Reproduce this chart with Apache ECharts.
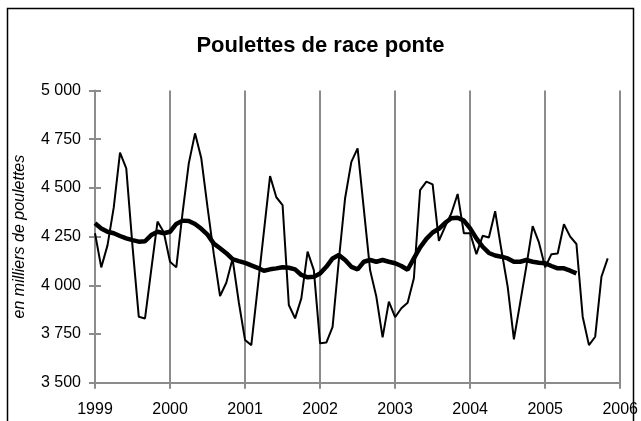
<!DOCTYPE html>
<html>
<head>
<meta charset="utf-8">
<script src="https://cdn.jsdelivr.net/npm/echarts@6/dist/echarts.min.js"></script>
<style>
  html, body { margin: 0; padding: 0; background: #fff; }
  #main { width: 641px; height: 421px; }
</style>
</head>
<body>
<div id="main"></div>
<script>
  // série mensuelle, janvier 1999 -> novembre 2005 (milliers de poulettes)
  const startYear = 1999;
  const monthly = [
    4267, 4092, 4205, 4400, 4681, 4600, 4200, 3839, 3830, 4080, 4327, 4272,
    4121, 4092, 4370, 4626, 4780, 4652, 4400, 4160, 3945, 4013, 4136, 3913,
    3719, 3693, 3982, 4272, 4561, 4452, 4412, 3899, 3830, 3933, 4173, 4078,
    3702, 3706, 3787, 4130, 4447, 4634, 4703, 4390, 4078, 3941, 3733, 3916,
    3836, 3882, 3910, 4036, 4489, 4532, 4518, 4228, 4301, 4370, 4469, 4267,
    4267, 4160, 4254, 4245, 4380, 4181, 3993, 3723, 3910, 4100, 4304, 4220,
    4092, 4160, 4163, 4313, 4250, 4212, 3839, 3693, 3736, 4044, 4138
  ];
  // moyenne mobile (trait épais), janvier 1999 -> juin 2005
  const trend = [
    4318, 4292, 4275, 4267, 4253, 4241, 4232, 4224, 4226, 4258, 4275, 4267,
    4275, 4315, 4332, 4330, 4315, 4290, 4260, 4214, 4190, 4165, 4134, 4124,
    4115, 4102, 4090, 4075, 4082, 4087, 4093, 4090, 4082, 4053, 4041, 4044,
    4061, 4095, 4138, 4155, 4130, 4095, 4082, 4121, 4130, 4121, 4130, 4121,
    4113, 4099, 4080, 4138, 4195, 4238, 4271, 4290, 4321, 4344, 4347, 4332,
    4292, 4241, 4198, 4166, 4153, 4147, 4138, 4121, 4121, 4130, 4121, 4116,
    4113, 4099, 4087, 4087, 4075, 4061
  ];
  const yearMin = 1999, yearMax = 2006;
  const yMin = 3500, yMax = 5000, yStep = 250;

  const toPoints = arr => arr.map((v, i) => [startYear + i / 12, v]);
  const fmtThousands = v => String(v).replace(/\B(?=(\d{3})+(?!\d))/g, ' ');

  const grey = '#8c8c8c';
  const font = 'Liberation Sans, Arial, sans-serif';

  const chart = echarts.init(document.getElementById('main'));
  chart.setOption({
    animation: false,
    backgroundColor: '#fff',
    title: {
      text: 'Poulettes de race ponte',
      left: 'center',
      top: 30,
      textStyle: { fontFamily: font, fontSize: 22, fontWeight: 'bold', color: '#000' }
    },
    graphic: [{
      type: 'rect',
      shape: { x: 7.5, y: 8.5, width: 626, height: 440 },
      style: { fill: 'none', stroke: '#000', lineWidth: 1.5 },
      silent: true
    }],
    grid: { left: 95, right: 20, top: 90.5, bottom: 38.3 },
    xAxis: {
      type: 'value',
      min: yearMin,
      max: yearMax,
      interval: 1,
      axisLine: { lineStyle: { color: grey, width: 2 } },
      axisTick: { show: true, length: 6, lineStyle: { color: grey, width: 2 } },
      splitLine: { show: true, lineStyle: { color: grey, width: 2 } },
      axisLabel: { color: '#000', fontFamily: font, fontSize: 16, margin: 19, formatter: v => String(v) }
    },
    yAxis: [{
      type: 'value',
      min: yMin,
      max: yMax,
      interval: yStep,
      name: 'en milliers de poulettes',
      nameLocation: 'middle',
      nameGap: 67,
      nameTextStyle: { fontFamily: font, fontSize: 16, fontStyle: 'italic', color: '#000' },
      axisLine: { show: true, lineStyle: { color: grey, width: 2 } },
      axisTick: { show: true, length: 6, lineStyle: { color: grey, width: 2 } },
      splitLine: { show: false },
      axisLabel: { color: '#000', fontFamily: font, fontSize: 16, margin: 14, formatter: fmtThousands }
    }, {
      type: 'value',
      position: 'left',
      min: yMin,
      max: yMax,
      interval: yStep,
      axisLine: { show: false },
      axisTick: { show: true, inside: true, length: 6, lineStyle: { color: grey, width: 2 } },
      splitLine: { show: false },
      axisLabel: { show: false }
    }],
    series: [{
      name: 'mensuel',
      type: 'line',
      data: toPoints(monthly),
      symbol: 'none',
      lineStyle: { color: '#000', width: 2 },
      z: 3
    }, {
      name: 'tendance',
      type: 'line',
      data: toPoints(trend),
      symbol: 'none',
      lineStyle: { color: '#000', width: 4.5 },
      z: 4
    }]
  });
</script>
</body>
</html>
